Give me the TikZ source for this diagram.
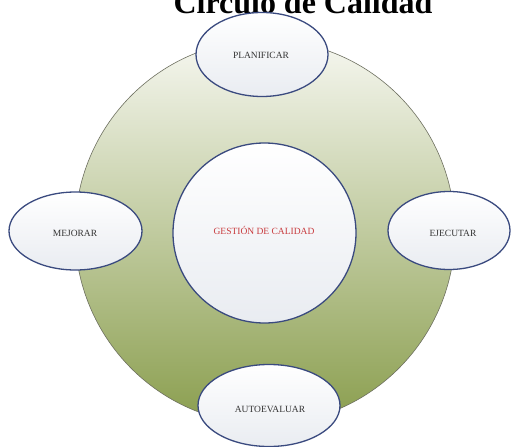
\documentclass[tikz,border=0pt]{standalone}
\usepackage{fontspec}
\setmainfont{Liberation Serif}
\definecolor{ringtop}{HTML}{F6F7F0}
\definecolor{ringbot}{HTML}{8A9E4E}
\definecolor{ringline}{HTML}{6E7060}
\definecolor{ellline}{HTML}{3A4A7F}
\definecolor{elltop}{HTML}{FFFFFF}
\definecolor{ellbot}{HTML}{E9ECF1}
\definecolor{txt}{HTML}{333333}
\definecolor{redtxt}{HTML}{C8393D}
\tikzset{
  stagebox/.style={ellipse, draw=ellline, line width=1.3pt, top color=elltop, bottom color=ellbot, inner sep=0pt},
  stagetext/.style={font=\fontsize{9.5}{11}\selectfont, text=txt},
}
\begin{document}
\begin{tikzpicture}[x=1pt,y=-1pt]
\clip (0,0) rectangle (512,447);
\fill[white] (0,0) rectangle (512,447);
% title (partly cut at the top)
\node[anchor=base, font=\fontsize{32}{36}\bfseries\selectfont, text=black] (title) at (303,13) {Círculo de Calidad};
% big ring
\shade[top color=ringtop, bottom color=ringbot, draw=ringline, line width=0.6pt] (265,232) ellipse [x radius=190, y radius=192];
\coordinate (ring) at (265,232);
% centre circle
\draw[ellline, line width=1.3pt, top color=elltop, bottom color=ellbot] (264.5,233) ellipse [x radius=91.5, y radius=90];
\node[font=\fontsize{9.5}{11}\selectfont, text=redtxt] (core) at (264,230) {GESTIÓN DE CALIDAD};
% stages
\draw[ellline, line width=1.3pt, top color=elltop, bottom color=ellbot] (262,54.5) ellipse [x radius=66, y radius=42];
\node[stagetext] (plan) at (261,55) {PLANIFICAR};
\draw[ellline, line width=1.3pt, top color=elltop, bottom color=ellbot] (75.5,231) ellipse [x radius=66.5, y radius=39];
\node[stagetext] (mej) at (75,233) {MEJORAR};
\draw[ellline, line width=1.3pt, top color=elltop, bottom color=ellbot] (449,230.5) ellipse [x radius=61, y radius=39];
\node[stagetext] (eje) at (453,233) {EJECUTAR};
\draw[ellline, line width=1.3pt, top color=elltop, bottom color=ellbot] (269,405.5) ellipse [x radius=71, y radius=41];
\node[stagetext] (auto) at (270,409) {AUTOEVALUAR};
\end{tikzpicture}
\end{document}
